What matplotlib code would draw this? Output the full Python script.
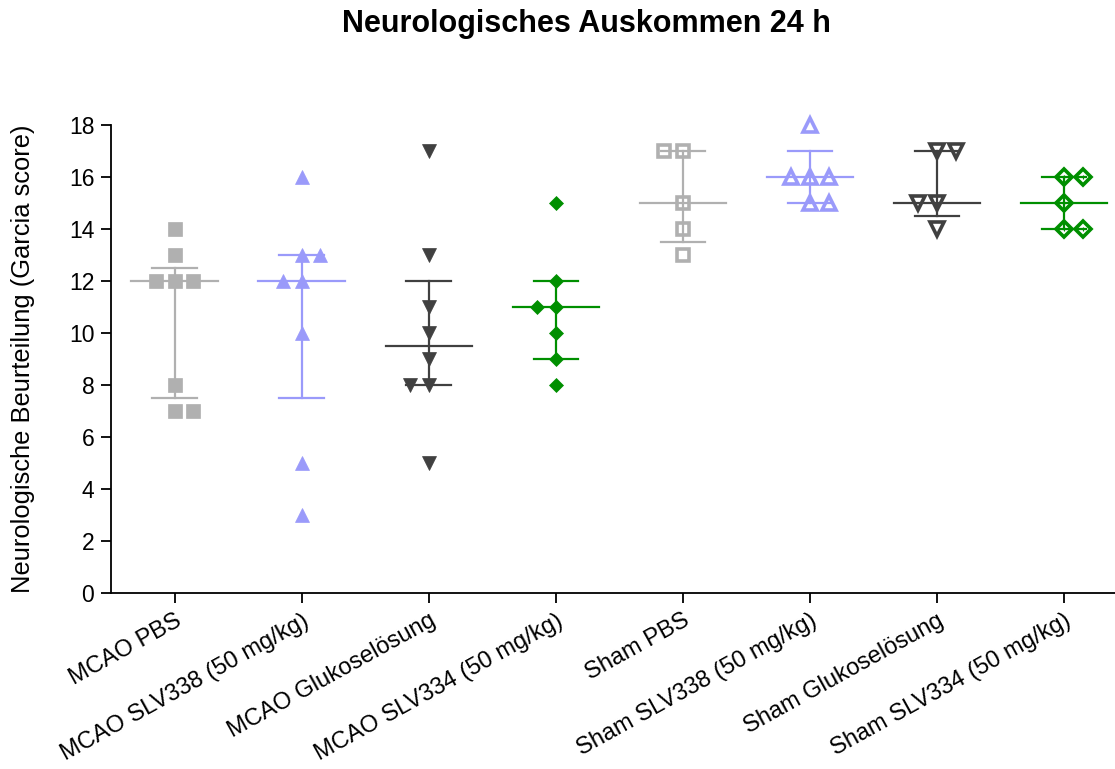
import numpy as np
import matplotlib
matplotlib.use("Agg")
import matplotlib.pyplot as plt

plt.rcParams['font.family'] = ['Liberation Sans', 'DejaVu Sans']

categories = ["MCAO PBS", "MCAO SLV338 (50 mg/kg)", "MCAO Glukoselösung",
              "MCAO SLV334 (50 mg/kg)", "Sham PBS", "Sham SLV338 (50 mg/kg)",
              "Sham Glukoselösung", "Sham SLV334 (50 mg/kg)"]

values = [
    [14, 13, 12, 12, 12, 8, 7, 7],
    [16, 13, 13, 12, 12, 10, 5, 3],
    [17, 13, 11, 10, 9, 8, 8, 5],
    [15, 12, 11, 11, 10, 9, 8],
    [17, 17, 15, 14, 13],
    [18, 16, 16, 16, 15, 15],
    [17, 17, 15, 15, 14],
    [16, 16, 15, 14, 14],
]
# horizontal slot of each point (scatter spread of tied values)
slots = [
    [0, 0, -1, 0, 1, 0, 0, 1],
    [0, 0, 1, -1, 0, 0, 0, 0],
    [0, 0, 0, 0, 0, -1, 0, 0],
    [0, 0, -1, 0, 0, 0, 0],
    [-1, 0, 0, 0, 0],
    [0, -1, 0, 1, 0, 1],
    [0, 1, -1, 0, 0],
    [0, 1, 0, 0, 1],
]
medians = [12, 12, 9.5, 11, 15, 16, 15, 15]
q1 = [7.5, 7.5, 8, 9, 13.5, 15, 14.5, 14]
q3 = [12.5, 13, 12, 12, 17, 17, 17, 16]

colors = ["#b0b0b0", "#9a9afa", "#404040", "#008f00",
          "#b0b0b0", "#9a9afa", "#404040", "#008f00"]
markers = ["s", "^", "v", "D", "s", "^", "v", "D"]
filled = [True, True, True, True, False, False, False, False]
msizes = [9.5, 10, 10, 7.5, 9, 9.5, 9.5, 8.5]

fig = plt.figure(figsize=(11.15, 7.69), dpi=100)
ax = fig.add_axes([111/1115, 1 - 593/769, 1 - 111/1115, (593 - 125)/769])

spread = 0.148
med_hw = 0.34
cap_hw = 0.175
for i, (vals, sl) in enumerate(zip(values, slots)):
    c = colors[i]
    ax.plot([i, i], [q1[i], q3[i]], color=c, lw=1.6, zorder=2)
    ax.plot([i - cap_hw, i + cap_hw], [q1[i], q1[i]], color=c, lw=1.6, zorder=2)
    ax.plot([i - cap_hw, i + cap_hw], [q3[i], q3[i]], color=c, lw=1.6, zorder=2)
    ax.plot([i - med_hw, i + med_hw], [medians[i], medians[i]], color=c, lw=1.6, zorder=2)
    xs = i + spread * np.array(sl)
    if filled[i]:
        ax.plot(xs, vals, ls='none', marker=markers[i], ms=msizes[i],
                mfc=c, mec=c, mew=0.5, zorder=3, clip_on=False)
    else:
        ax.plot(xs, vals, ls='none', marker=markers[i], ms=msizes[i],
                mfc='none', mec=c, mew=2.6, zorder=3, clip_on=False)
        if markers[i] == 'D':
            ax.plot(xs, vals, ls='none', marker='+', ms=3.5, mec=c, mew=0.8,
                    zorder=3, clip_on=False)

ax.set_xlim(-0.5, 7.4)
ax.set_ylim(0, 18)
ax.set_yticks(np.arange(0, 19, 2))
ax.set_xticks(range(len(categories)))
ax.set_xticklabels(categories, rotation=29, ha='right', rotation_mode='anchor',
                   fontsize=17)
ax.tick_params(axis='y', labelsize=16.5, length=7, width=1.3, direction='out', pad=5)
ax.tick_params(axis='x', length=7, width=1.3, direction='out', pad=5)
for s in ['top', 'right']:
    ax.spines[s].set_visible(False)
for s in ['left', 'bottom']:
    ax.spines[s].set_linewidth(1.3)
ax.set_ylabel("Neurologische Beurteilung (Garcia score)", fontsize=18.4)
ax.yaxis.set_label_coords(-(111 - 35) / (1115 - 111), 0.5)
fig.suptitle("Neurologisches Auskommen 24 h", fontsize=22, fontweight='bold',
             x=586/1115, y=1 - 24/769, va='center')

fig.savefig("out.png", dpi=100)
